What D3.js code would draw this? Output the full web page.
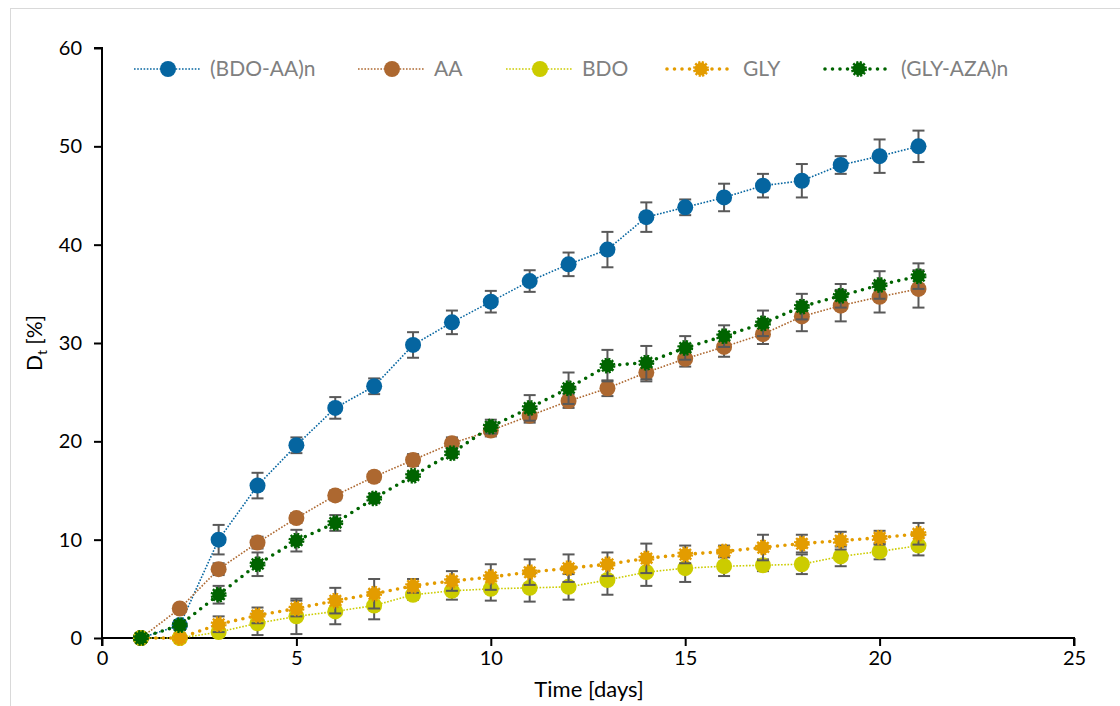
<!DOCTYPE html>
<html>
<head>
<meta charset="utf-8">
<script src="https://cdn.jsdelivr.net/npm/d3@7"></script>
<style>
  html, body { margin: 0; padding: 0; background: #fff; }
  svg { display: block; font-family: Lato, "Open Sans", sans-serif; }
</style>
</head>
<body>
<div id="chart"></div>
<script>
// --- data ---
const days = [1, 2, 3, 4, 5, 6, 7, 8, 9, 10, 11, 12, 13, 14, 15, 16, 17, 18, 19, 20, 21];

const bdoAA    = [0, 1.3, 10.0, 15.5, 19.6, 23.4, 25.6, 29.8, 32.1, 34.2, 36.3, 38.0, 39.5, 42.8, 43.8, 44.8, 46.0, 46.5, 48.1, 49.0, 50.0];
const bdoAAErr = [0, 0.5, 1.5, 1.3, 0.8, 1.1, 0.8, 1.3, 1.2, 1.1, 1.1, 1.2, 1.8, 1.5, 0.8, 1.4, 1.2, 1.7, 0.9, 1.7, 1.6];

const aa       = [0, 3.0, 7.0, 9.7, 12.2, 14.5, 16.4, 18.1, 19.8, 21.1, 22.6, 24.1, 25.4, 27.0, 28.4, 29.6, 30.9, 32.7, 33.8, 34.7, 35.5];
const aaErr    = [0, 0.3, 0.6, 0.6, 0.5, 0.5, 0.5, 0.6, 0.6, 0.6, 0.7, 0.7, 0.8, 0.9, 0.8, 1.0, 1.0, 1.5, 1.6, 1.6, 1.9];

const bdo      = [0, 0, 0.6, 1.5, 2.2, 2.7, 3.3, 4.4, 4.8, 5.0, 5.1, 5.2, 5.9, 6.7, 7.1, 7.3, 7.4, 7.5, 8.3, 8.8, 9.4];
const bdoErr   = [0, 0, 0.5, 1.2, 1.8, 1.3, 1.4, 0.5, 0.9, 1.2, 1.4, 1.3, 1.5, 1.4, 1.4, 1.0, 0.6, 1.0, 1.0, 0.8, 1.0];

const gly      = [0, 0, 1.4, 2.3, 3.0, 3.8, 4.5, 5.3, 5.8, 6.2, 6.7, 7.1, 7.5, 8.1, 8.5, 8.8, 9.2, 9.6, 9.9, 10.2, 10.6];
const glyErr   = [0, 0, 0.8, 0.8, 0.8, 1.3, 1.5, 0.7, 1.0, 1.3, 1.3, 1.4, 1.2, 1.5, 0.9, 0.6, 1.3, 0.9, 0.9, 0.7, 1.1];

const glyAza    = [0, 1.3, 4.4, 7.5, 9.9, 11.7, 14.2, 16.5, 18.8, 21.5, 23.4, 25.4, 27.7, 28.0, 29.5, 30.7, 32.0, 33.7, 34.8, 35.9, 36.8];
const glyAzaErr = [0, 0.4, 0.9, 1.2, 1.1, 0.8, 0.5, 0.3, 0.5, 0.7, 1.3, 1.6, 1.6, 1.7, 1.2, 1.1, 1.3, 1.3, 1.2, 1.4, 1.3];

const seriesNames = ["(BDO-AA)n", "AA", "BDO", "GLY", "(GLY-AZA)n"];
const xTicks = [0, 5, 10, 15, 20, 25];
const yTicks = [0, 10, 20, 30, 40, 50, 60];

// --- styles ---
const series = [
  { name: seriesNames[0], vals: bdoAA,  err: bdoAAErr,  color: "#0565a0", heavy: false },
  { name: seriesNames[1], vals: aa,     err: aaErr,     color: "#ad6830", heavy: false },
  { name: seriesNames[2], vals: bdo,    err: bdoErr,    color: "#cccc00", heavy: false },
  { name: seriesNames[3], vals: gly,    err: glyErr,    color: "#e39c00", heavy: true },
  { name: seriesNames[4], vals: glyAza, err: glyAzaErr, color: "#006400", heavy: true }
];

const W = 1120, H = 706;
const margin = { left: 102, right: 46, top: 48, bottom: 68 };

const svg = d3.select("#chart").append("svg")
  .attr("width", W)
  .attr("height", H);

// outer chart frame (light grey)
svg.append("rect")
  .attr("x", 10.5).attr("y", 8.5)
  .attr("width", W + 20).attr("height", H + 20)
  .attr("fill", "none")
  .attr("stroke", "#d9d9d9")
  .attr("stroke-width", 1);

const x = d3.scaleLinear().domain([0, 25]).range([margin.left, W - margin.right]);
const y = d3.scaleLinear().domain([0, 60]).range([H - margin.bottom, margin.top]);

// axes
const xAxis = svg.append("g")
  .attr("transform", `translate(0,${y(0)})`)
  .call(d3.axisBottom(x).tickValues(xTicks).tickSize(8).tickPadding(5));
const yAxis = svg.append("g")
  .attr("transform", `translate(${x(0)},0)`)
  .call(d3.axisLeft(y).tickValues(yTicks).tickSize(8).tickPadding(12));

[xAxis, yAxis].forEach(a => {
  a.select(".domain").attr("stroke", "#000").attr("stroke-width", 2);
  a.selectAll(".tick line").attr("stroke", "#000").attr("stroke-width", 2);
  a.selectAll(".tick text")
    .attr("fill", "#000")
    .style("font-size", "20px")
    .style("font-family", "Lato, 'Open Sans', sans-serif");
});
xAxis.select(".domain").attr("d", `M${x(0)},8V0H${x(25)}V8`);
yAxis.select(".domain").attr("d", `M-8,${y(60)}H0V${y(0)}`);

// axis titles
svg.append("text")
  .attr("x", (x(0) + x(25)) / 2 + 1)
  .attr("y", 697)
  .attr("text-anchor", "middle")
  .style("font-size", "22px")
  .attr("fill", "#000")
  .text("Time [days]");

const yTitle = svg.append("text")
  .attr("transform", `translate(42,${y(30)}) rotate(-90)`)
  .attr("text-anchor", "middle")
  .style("font-size", "21px")
  .attr("fill", "#000");
yTitle.append("tspan").text("D");
yTitle.append("tspan").attr("dy", 5).style("font-size", "14px").text("t");
yTitle.append("tspan").attr("dy", -5).text(" [%]");

// series
const line = d3.line().x((d, i) => x(days[i])).y(d => y(d));

function lineStyle(sel, s) {
  sel.attr("fill", "none")
    .attr("stroke", s.color);
  if (s.heavy) {
    sel.attr("stroke-width", 3.6)
      .attr("stroke-linecap", "round")
      .attr("stroke-dasharray", "0 7.5");
  } else {
    sel.attr("stroke-width", 1.6)
      .attr("stroke-dasharray", "1.6 1.6");
  }
}

function marker(g, s, cx, cy) {
  if (s.heavy) {
    g.append("circle")
      .attr("cx", cx).attr("cy", cy).attr("r", 6.5)
      .attr("fill", s.color)
      .attr("stroke", s.color)
      .attr("stroke-width", 3)
      .attr("stroke-dasharray", "2 1.4");
  } else {
    g.append("circle")
      .attr("cx", cx).attr("cy", cy).attr("r", 8)
      .attr("fill", s.color);
  }
}

series.forEach(s => {
  const g = svg.append("g");
  g.append("path").datum(s.vals).attr("d", line).call(lineStyle, s);

  // error bars
  const eb = g.append("g").attr("stroke", "#595959").attr("stroke-width", 2);
  s.vals.forEach((v, i) => {
    if (!s.err[i]) return;
    const cx = x(days[i]);
    const y1 = y(v + s.err[i]), y2 = y(Math.max(0, v - s.err[i]));
    eb.append("line").attr("x1", cx).attr("x2", cx).attr("y1", y1).attr("y2", y2);
    eb.append("line").attr("x1", cx - 6).attr("x2", cx + 6).attr("y1", y1).attr("y2", y1);
    eb.append("line").attr("x1", cx - 6).attr("x2", cx + 6).attr("y1", y2).attr("y2", y2);
  });

  s.vals.forEach((v, i) => marker(g, s, x(days[i]), y(v)));
});

// legend
const legendX = [134, 358, 506, 667, 825];
const legend = svg.append("g");
series.forEach((s, i) => {
  const lx = legendX[i], ly = 69;
  const lg = legend.append("g");
  lg.append("path").attr("d", `M${lx},${ly}H${lx + 66}`).call(lineStyle, s);
  marker(lg, s, lx + 34, ly);
  lg.append("text")
    .attr("x", lx + 76)
    .attr("y", ly + 7)
    .attr("fill", "#808080")
    .style("font-size", "21px")
    .text(s.name);
});
</script>
</body>
</html>
